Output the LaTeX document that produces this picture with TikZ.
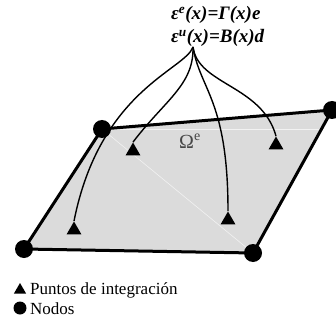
\documentclass[tikz,border=0pt]{standalone}
\usepackage{fontspec}
\setmainfont{Liberation Serif}
\usetikzlibrary{shapes.geometric}
\begin{document}
\begin{tikzpicture}[x=1pt,y=-1pt,
  nodo/.style={circle,fill=black,inner sep=0pt,minimum size=18pt},
  ptint/.style={regular polygon,regular polygon sides=3,fill=black,inner sep=0pt,minimum size=17pt},
  borde/.style={line width=3pt,line join=round},
  curva/.style={line width=1.4pt},
  eq/.style={font=\fontsize{19}{22}\selectfont\bfseries\itshape,inner sep=0pt,anchor=base west},
  ley/.style={font=\fontsize{17}{20}\selectfont,inner sep=0pt,anchor=base west}]
\useasboundingbox (0,0) rectangle (336,320);
\coordinate (c1) at (102,129);
\coordinate (c2) at (332,110);
\coordinate (c3) at (253,253);
\coordinate (c4) at (24,249);
\fill[gray!28] (c1) -- (c2) -- (c3) -- (c4) -- cycle;
\draw[white!90!gray,line width=0.6pt] (c1) -- (c3);
\draw[white!90!gray,line width=0.6pt] (c1) -- (321,129);
\draw[borde] (c1) -- (c2) -- (c3) -- (c4) -- cycle;
\node[nodo] (N1) at (c1) {};
\node[nodo] (N2) at (c2) {};
\node[nodo] (N3) at (c3) {};
\node[nodo] (N4) at (c4) {};
\node[ptint] (T1) at (133,151) {};
\node[ptint] (T2) at (276,145) {};
\node[ptint] (T3) at (228,220) {};
\node[ptint] (T4) at (74,230) {};
\node[font=\fontsize{20}{22}\selectfont,text=black!72,inner sep=0pt,anchor=base west] (om) at (179,148) {Ω\textsuperscript{e}};
\node[eq] (eq1) at (171,20) {ε\textsuperscript{e}(x)=Γ(x)e};
\node[eq] (eq2) at (171,43) {ε\textsuperscript{u}(x)=B(x)d};
\coordinate (src) at (193,47);
\draw[curva] (src) .. controls (185,70) and (100,90) .. (T4.corner 1);
\draw[curva] (src) .. controls (194,85) and (165,100) .. (T1.corner 1);
\draw[curva] (src) .. controls (200,90) and (228,100) .. (T3.corner 1);
\draw[curva] (src) .. controls (198,85) and (262,85) .. (T2.corner 1);
\node[ptint,minimum size=14pt] (LT) at (20,290) {};
\node[ley] (l1) at (30,294) {Puntos de integración};
\node[nodo,minimum size=13pt] (LN) at (20,308) {};
\node[ley] (l2) at (30,314) {Nodos};
\end{tikzpicture}
\end{document}
